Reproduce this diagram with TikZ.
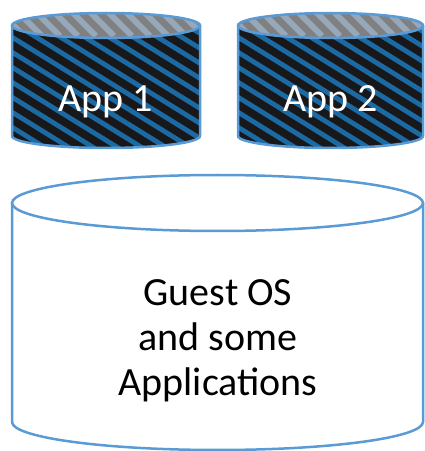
\documentclass[tikz,border=0pt]{standalone}
\usepackage{fontspec}
\setmainfont{Carlito}
\definecolor{rimblue}{RGB}{91,155,213}
\definecolor{stripeblue}{RGB}{28,106,164}
\definecolor{darkbody}{RGB}{24,24,26}
\definecolor{lidgray}{RGB}{128,128,128}
\definecolor{lidstripe}{RGB}{150,168,186}
\tikzset{
  rim/.style={draw=rimblue, line width=2.5pt},
  applabel/.style={text=white, anchor=base, font=\fontsize{40}{48}\selectfont},
  oslabel/.style={text=black, align=center, font=\fontsize{40}{45}\selectfont},
}

\begin{document}
\begin{tikzpicture}[x=1pt,y=1pt]
\useasboundingbox (0,0) rectangle (425,451);
\foreach \cx/\rx/\name/\txt in {106/94/app1/App 1, 330.5/92.5/app2/App 2}{
  \begin{scope}
    \clip (\cx-\rx,425) -- (\cx-\rx,315) arc[start angle=180, end angle=360, x radius=\rx, y radius=12]
      -- (\cx+\rx,425) arc[start angle=0, end angle=180, x radius=\rx, y radius=12] -- cycle;
    \fill[darkbody] (\cx-\rx,290) rectangle (\cx+\rx,440);
    \foreach \k in {-12,...,18}
      \draw[stripeblue, line width=4.8pt] (\cx-\rx-10,300+\k*15) -- ++(220,-136);
  \end{scope}
  \begin{scope}
    \clip (\cx,425.5) ellipse[x radius=\rx, y radius=12.5];
    \fill[lidgray] (\cx-\rx,410) rectangle (\cx+\rx,440);
    \foreach \k in {-2,...,12}
      \draw[lidstripe, line width=6pt] (\cx-\rx+\k*18,445) -- ++(30,-30);
  \end{scope}
  \draw[rim] (\cx-\rx,425.5) -- (\cx-\rx,315) arc[start angle=180, end angle=360, x radius=\rx, y radius=12]
    -- (\cx+\rx,425.5);
  \draw[rim] (\cx,425.5) ellipse[x radius=\rx, y radius=12.5];
  \node[applabel] (\name) at (\cx,339) {\txt};
}
\draw[rim, fill=white] (12,248) -- (12,29) arc[start angle=180, end angle=360, x radius=205.5, y radius=28] -- (423,248);
\draw[rim] (217.5,248) ellipse[x radius=205.5, y radius=28];
\node[oslabel] (guest) at (218,110) {Guest OS\\and some\\Applications};
\end{tikzpicture}
\end{document}
